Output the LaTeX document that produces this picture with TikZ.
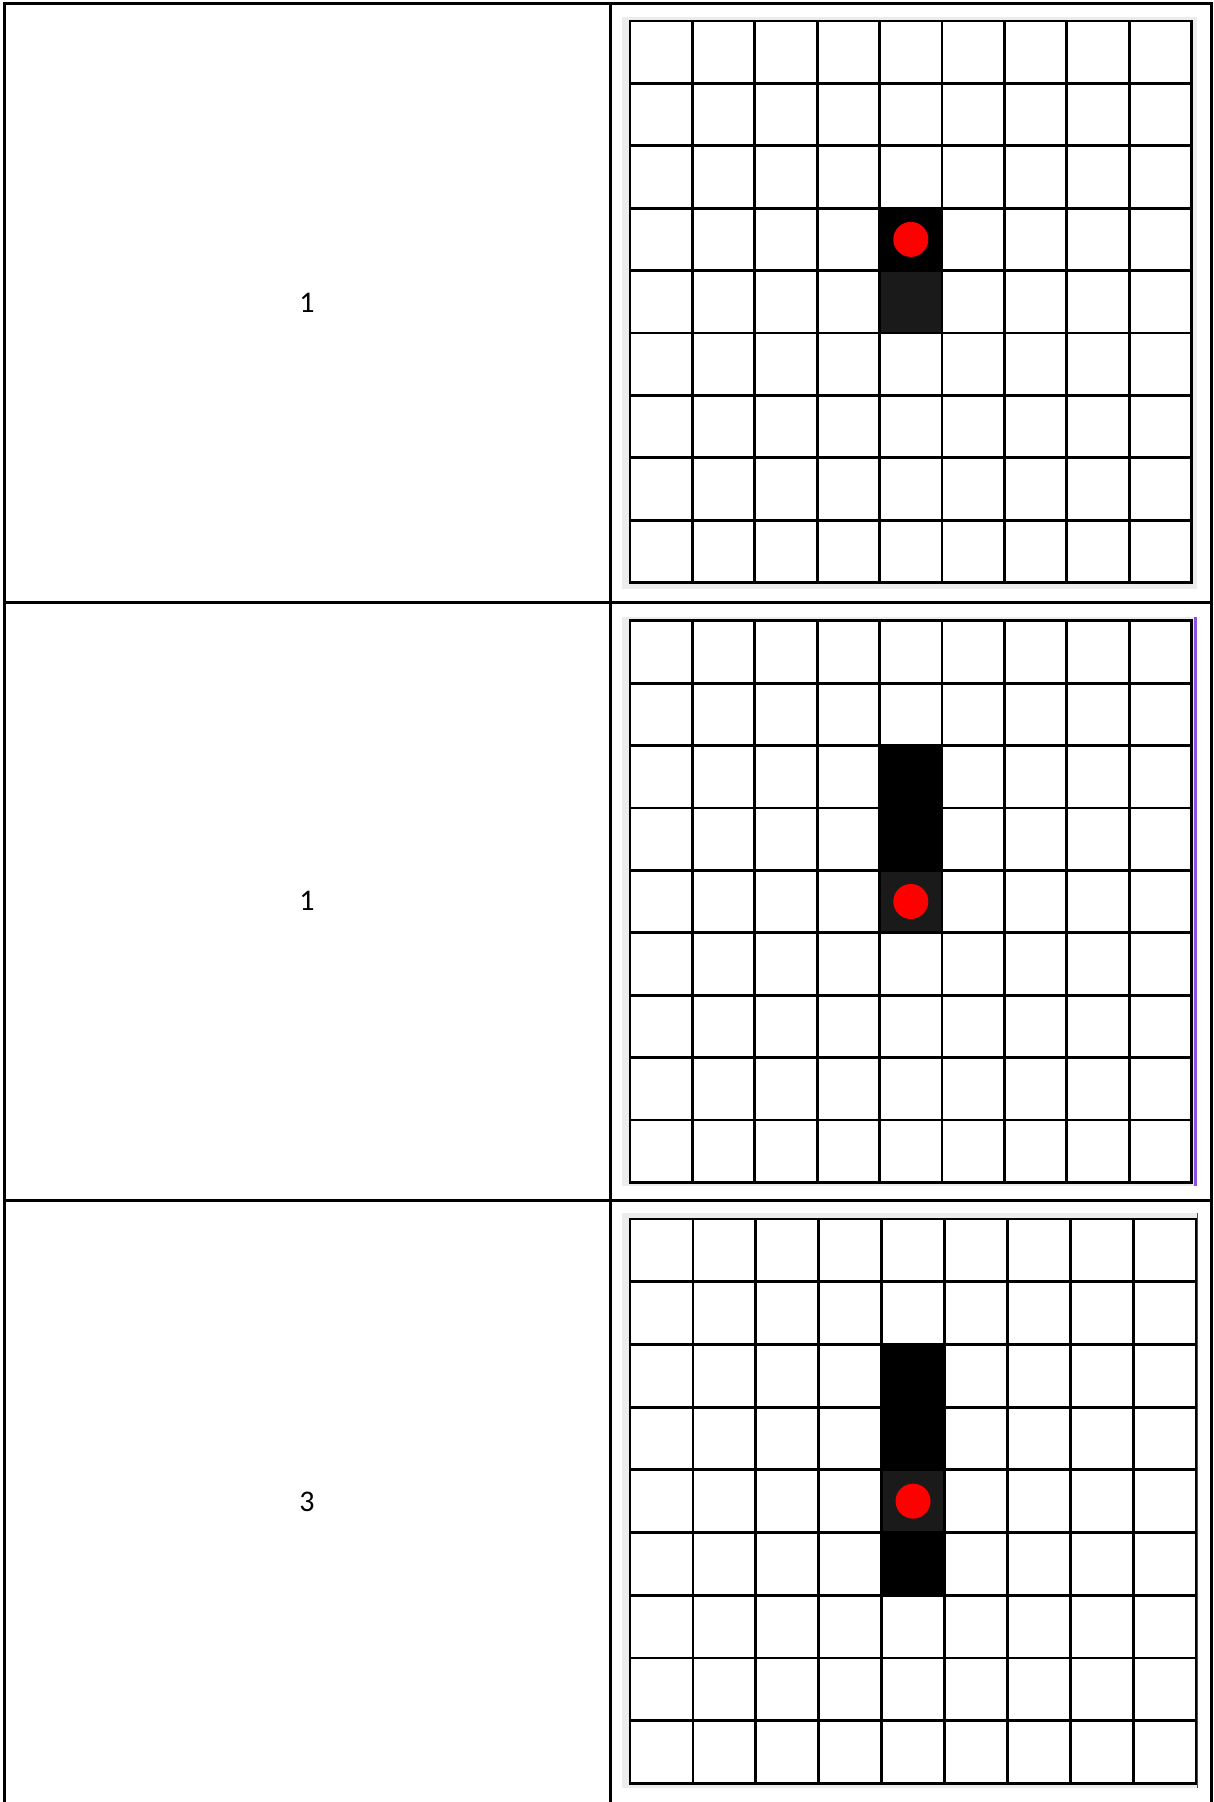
\documentclass[tikz,border=0pt]{standalone}
\usepackage{fontspec}
\setmainfont{Carlito}
\definecolor{panelbg}{RGB}{236,236,236}
\definecolor{darkcell}{RGB}{26,26,26}
\definecolor{dotred}{RGB}{255,0,0}
\definecolor{edgepurple}{RGB}{140,82,230}
\definecolor{edgeindigo}{RGB}{90,50,170}
\tikzset{
  tableline/.style={line width=3pt, black, line cap=rect},
  gridline/.style={line width=2.8pt, black, line cap=rect},
  celltext/.style={font=\fontsize{30}{36}\selectfont, inner sep=0pt, anchor=center},
  reddot/.style={circle, fill=dotred, minimum size=35pt, inner sep=0pt},
}
\newcommand{\drawgrid}[4]{%
  \foreach \i in {0,...,9}{
    \draw[gridline] ({#1+\i*#3},#2) -- ({#1+\i*#3},{#2+9*#4});
    \draw[gridline] (#1,{#2+\i*#4}) -- ({#1+9*#3},{#2+\i*#4});
  }}
\newcommand{\cellfill}[7]{% left top cw ch col row color
  \fill[#7] ({#1+#5*#3},{#2+#6*#4}) rectangle ({#1+(#5+1)*#3},{#2+(#6+1)*#4});}
\begin{document}
\begin{tikzpicture}[x=1pt,y=-1pt]
\useasboundingbox (0,0) rectangle (1213,1802);
\fill[white] (0,0) rectangle (1213,1802);

% panel backgrounds
\fill[panelbg] (622,16.5) rectangle (1197,589);
\fill[panelbg] (622,617) rectangle (1196,1186);
\fill[panelbg] (622,1213) rectangle (1198,1788);

% panel 1
\fill[white] (630,21) rectangle (1191.6,582.6);
\cellfill{630}{21}{62.4}{62.4}{4}{3}{black}
\cellfill{630}{21}{62.4}{62.4}{4}{4}{darkcell}
\drawgrid{630}{21}{62.4}{62.4}
\node[reddot] (d1) at ({630+4.5*62.4},{21+3.5*62.4}) {};

% panel 2
\fill[white] (630,620.7) rectangle (1191.6,1182.3);
\cellfill{630}{620.7}{62.4}{62.4}{4}{2}{black}
\cellfill{630}{620.7}{62.4}{62.4}{4}{3}{black}
\cellfill{630}{620.7}{62.4}{62.4}{4}{4}{darkcell}
\drawgrid{630}{620.7}{62.4}{62.4}
\node[reddot] (d2) at ({630+4.5*62.4},{620.7+4.5*62.4}) {};
\draw[edgepurple, line width=2.7pt] (1195.6,617) -- (1195.6,1186);

% panel 3
\fill[white] (630,1219) rectangle (1196,1783.3);
\cellfill{630}{1219}{62.9}{62.7}{4}{2}{black}
\cellfill{630}{1219}{62.9}{62.7}{4}{3}{black}
\cellfill{630}{1219}{62.9}{62.7}{4}{4}{darkcell}
\cellfill{630}{1219}{62.9}{62.7}{4}{5}{black}
\drawgrid{630}{1219}{62.9}{62.7}
\node[reddot] (d3) at ({630+4.5*62.9},{1219+4.5*62.7}) {};
\draw[edgeindigo, line width=1.2pt] (1197.4,1213) -- (1197.4,1788);

% table lines
\draw[tableline] (4.5,1805) -- (4.5,3) -- (1211,3) -- (1211,1805);
\draw[tableline] (610,3) -- (610,1805);
\draw[tableline] (4.5,602.3) -- (1211,602.3);
\draw[tableline] (4.5,1200.7) -- (1211,1200.7);

% labels
\node[celltext] (t1) at (307,303) {1};
\node[celltext] (t2) at (307,901) {1};
\node[celltext] (t3) at (307,1502) {3};
\end{tikzpicture}
\end{document}
